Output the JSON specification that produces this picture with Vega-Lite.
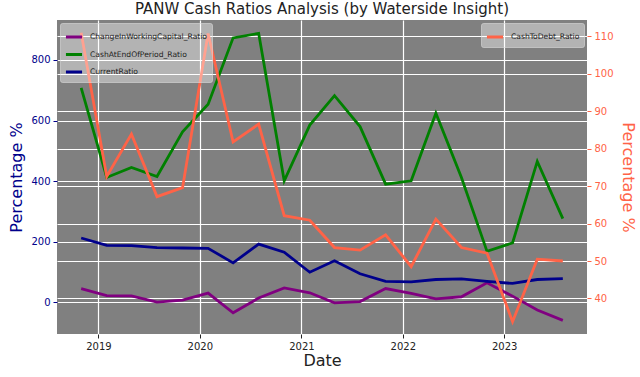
{
  "$schema": "https://vega.github.io/schema/vega-lite/v6.json",
  "autosize": "none",
  "width": 530,
  "height": 314,
  "padding": {"left": 57, "top": 20, "right": 53, "bottom": 43},
  "background": "white",
  "config": {
    "font": "DejaVu Sans",
    "view": {"fill": "#808080", "stroke": null},
    "axis": {"gridColor": "white", "gridOpacity": 1, "gridWidth": 1.2, "domain": false, "labelFont": "DejaVu Sans", "titleFont": "DejaVu Sans", "titleFontWeight": "normal"}
  },
  "title": {"text": "PANW Cash Ratios Analysis (by Waterside Insight)", "fontSize": 15, "fontWeight": "normal", "color": "#222222", "offset": 3, "font": "DejaVu Sans"},
  "data": {"values": [
    {"date": "2018-10-31", "series": "ChangeInWorkingCapital_Ratio", "value": 45},
    {"date": "2019-01-31", "series": "ChangeInWorkingCapital_Ratio", "value": 22},
    {"date": "2019-04-30", "series": "ChangeInWorkingCapital_Ratio", "value": 21},
    {"date": "2019-07-31", "series": "ChangeInWorkingCapital_Ratio", "value": 0},
    {"date": "2019-10-31", "series": "ChangeInWorkingCapital_Ratio", "value": 7},
    {"date": "2020-01-31", "series": "ChangeInWorkingCapital_Ratio", "value": 30},
    {"date": "2020-04-30", "series": "ChangeInWorkingCapital_Ratio", "value": -35},
    {"date": "2020-07-31", "series": "ChangeInWorkingCapital_Ratio", "value": 14},
    {"date": "2020-10-31", "series": "ChangeInWorkingCapital_Ratio", "value": 47},
    {"date": "2021-01-31", "series": "ChangeInWorkingCapital_Ratio", "value": 31},
    {"date": "2021-04-30", "series": "ChangeInWorkingCapital_Ratio", "value": -2},
    {"date": "2021-07-31", "series": "ChangeInWorkingCapital_Ratio", "value": 2},
    {"date": "2021-10-31", "series": "ChangeInWorkingCapital_Ratio", "value": 45},
    {"date": "2022-01-31", "series": "ChangeInWorkingCapital_Ratio", "value": 29},
    {"date": "2022-04-30", "series": "ChangeInWorkingCapital_Ratio", "value": 11},
    {"date": "2022-07-31", "series": "ChangeInWorkingCapital_Ratio", "value": 18},
    {"date": "2022-10-31", "series": "ChangeInWorkingCapital_Ratio", "value": 64},
    {"date": "2023-01-31", "series": "ChangeInWorkingCapital_Ratio", "value": 20},
    {"date": "2023-04-30", "series": "ChangeInWorkingCapital_Ratio", "value": -26},
    {"date": "2023-07-31", "series": "ChangeInWorkingCapital_Ratio", "value": -60},
    {"date": "2018-10-31", "series": "CashAtEndOfPeriod_Ratio", "value": 708},
    {"date": "2019-01-31", "series": "CashAtEndOfPeriod_Ratio", "value": 412},
    {"date": "2019-04-30", "series": "CashAtEndOfPeriod_Ratio", "value": 445},
    {"date": "2019-07-31", "series": "CashAtEndOfPeriod_Ratio", "value": 415},
    {"date": "2019-10-31", "series": "CashAtEndOfPeriod_Ratio", "value": 563},
    {"date": "2020-01-31", "series": "CashAtEndOfPeriod_Ratio", "value": 654},
    {"date": "2020-04-30", "series": "CashAtEndOfPeriod_Ratio", "value": 873},
    {"date": "2020-07-31", "series": "CashAtEndOfPeriod_Ratio", "value": 888},
    {"date": "2020-10-31", "series": "CashAtEndOfPeriod_Ratio", "value": 401},
    {"date": "2021-01-31", "series": "CashAtEndOfPeriod_Ratio", "value": 585},
    {"date": "2021-04-30", "series": "CashAtEndOfPeriod_Ratio", "value": 682},
    {"date": "2021-07-31", "series": "CashAtEndOfPeriod_Ratio", "value": 580},
    {"date": "2021-10-31", "series": "CashAtEndOfPeriod_Ratio", "value": 390},
    {"date": "2022-01-31", "series": "CashAtEndOfPeriod_Ratio", "value": 401},
    {"date": "2022-04-30", "series": "CashAtEndOfPeriod_Ratio", "value": 624},
    {"date": "2022-07-31", "series": "CashAtEndOfPeriod_Ratio", "value": 412},
    {"date": "2022-10-31", "series": "CashAtEndOfPeriod_Ratio", "value": 168},
    {"date": "2023-01-31", "series": "CashAtEndOfPeriod_Ratio", "value": 196},
    {"date": "2023-04-30", "series": "CashAtEndOfPeriod_Ratio", "value": 465},
    {"date": "2023-07-31", "series": "CashAtEndOfPeriod_Ratio", "value": 276},
    {"date": "2018-10-31", "series": "CurrentRatio", "value": 212},
    {"date": "2019-01-31", "series": "CurrentRatio", "value": 188},
    {"date": "2019-04-30", "series": "CurrentRatio", "value": 187},
    {"date": "2019-07-31", "series": "CurrentRatio", "value": 180},
    {"date": "2019-10-31", "series": "CurrentRatio", "value": 179},
    {"date": "2020-01-31", "series": "CurrentRatio", "value": 178},
    {"date": "2020-04-30", "series": "CurrentRatio", "value": 130},
    {"date": "2020-07-31", "series": "CurrentRatio", "value": 192},
    {"date": "2020-10-31", "series": "CurrentRatio", "value": 165},
    {"date": "2021-01-31", "series": "CurrentRatio", "value": 99},
    {"date": "2021-04-30", "series": "CurrentRatio", "value": 137},
    {"date": "2021-07-31", "series": "CurrentRatio", "value": 94},
    {"date": "2021-10-31", "series": "CurrentRatio", "value": 69},
    {"date": "2022-01-31", "series": "CurrentRatio", "value": 67},
    {"date": "2022-04-30", "series": "CurrentRatio", "value": 75},
    {"date": "2022-07-31", "series": "CurrentRatio", "value": 77},
    {"date": "2022-10-31", "series": "CurrentRatio", "value": 69},
    {"date": "2023-01-31", "series": "CurrentRatio", "value": 62},
    {"date": "2023-04-30", "series": "CurrentRatio", "value": 75},
    {"date": "2023-07-31", "series": "CurrentRatio", "value": 78},
    {"date": "2018-10-31", "series": "CashToDebt_Ratio", "value": 111},
    {"date": "2019-01-31", "series": "CashToDebt_Ratio", "value": 72.6},
    {"date": "2019-04-30", "series": "CashToDebt_Ratio", "value": 83.9},
    {"date": "2019-07-31", "series": "CashToDebt_Ratio", "value": 67.2},
    {"date": "2019-10-31", "series": "CashToDebt_Ratio", "value": 69.6},
    {"date": "2020-01-31", "series": "CashToDebt_Ratio", "value": 110.8},
    {"date": "2020-04-30", "series": "CashToDebt_Ratio", "value": 81.8},
    {"date": "2020-07-31", "series": "CashToDebt_Ratio", "value": 86.6},
    {"date": "2020-10-31", "series": "CashToDebt_Ratio", "value": 62.1},
    {"date": "2021-01-31", "series": "CashToDebt_Ratio", "value": 60.9},
    {"date": "2021-04-30", "series": "CashToDebt_Ratio", "value": 53.6},
    {"date": "2021-07-31", "series": "CashToDebt_Ratio", "value": 52.9},
    {"date": "2021-10-31", "series": "CashToDebt_Ratio", "value": 57.0},
    {"date": "2022-01-31", "series": "CashToDebt_Ratio", "value": 48.5},
    {"date": "2022-04-30", "series": "CashToDebt_Ratio", "value": 61.2},
    {"date": "2022-07-31", "series": "CashToDebt_Ratio", "value": 53.6},
    {"date": "2022-10-31", "series": "CashToDebt_Ratio", "value": 52.1},
    {"date": "2023-01-31", "series": "CashToDebt_Ratio", "value": 33.8},
    {"date": "2023-04-30", "series": "CashToDebt_Ratio", "value": 50.5},
    {"date": "2023-07-31", "series": "CashToDebt_Ratio", "value": 50.0}
  ]},
  "encoding": {
    "x": {
      "field": "date", "type": "temporal", "title": "Date",
      "scale": {"domain": ["2018-08-05", "2023-10-26"]},
      "axis": {"format": "%Y", "tickCount": {"interval": "year", "step": 1}, "labelFontSize": 10, "labelColor": "#222222", "titleFontSize": 16, "titleColor": "#222222", "tickColor": "#222222", "tickSize": 4, "labelPadding": 3, "titlePadding": 1, "grid": true}
    }
  },
  "layer": [
    {
      "transform": [{"filter": "datum.series !== 'CashToDebt_Ratio'"}],
      "mark": {"type": "line", "strokeWidth": 2.8},
      "encoding": {
        "y": {
          "field": "value", "type": "quantitative", "title": "Percentage %",
          "scale": {"domain": [-105, 932], "nice": false, "zero": false},
          "axis": {"values": [0, 200, 400, 600, 800], "labelColor": "#00008B", "titleColor": "#00008B", "tickColor": "#00008B", "labelFontSize": 10, "titleFontSize": 16, "tickSize": 4, "labelPadding": 3, "titlePadding": 6, "grid": true}
        },
        "color": {
          "field": "series", "type": "nominal",
          "scale": {"domain": ["ChangeInWorkingCapital_Ratio", "CashAtEndOfPeriod_Ratio", "CurrentRatio"], "range": ["#800080", "#008000", "#00008B"]},
          "legend": {"title": null, "orient": "top-left", "offset": 3, "symbolType": "stroke", "symbolStrokeWidth": 3, "symbolSize": 260, "labelFontSize": 7.6, "labelColor": "#222222", "rowPadding": 1.5, "labelOffset": 6, "fillColor": "rgba(255,255,255,0.4)", "strokeColor": "rgba(220,220,220,0.6)", "padding": 4, "cornerRadius": 2}
        }
      }
    },
    {
      "transform": [{"filter": "datum.series === 'CashToDebt_Ratio'"}],
      "mark": {"type": "line", "strokeWidth": 2.8},
      "encoding": {
        "y": {
          "field": "value", "type": "quantitative", "title": "Percentage %",
          "scale": {"domain": [30.5, 114.4], "nice": false, "zero": false},
          "axis": {"orient": "right", "values": [40, 50, 60, 70, 80, 90, 100, 110], "labelColor": "#FF6347", "titleColor": "#FF6347", "tickColor": "#FF6347", "labelFontSize": 10, "titleFontSize": 16, "tickSize": 4, "labelPadding": 3, "titlePadding": 6, "grid": true}
        },
        "color": {
          "field": "series", "type": "nominal",
          "scale": {"domain": ["CashToDebt_Ratio"], "range": ["#FF6347"]},
          "legend": {"title": null, "orient": "top-right", "offset": 3, "symbolType": "stroke", "symbolStrokeWidth": 3, "symbolSize": 260, "labelFontSize": 7.6, "labelColor": "#222222", "labelOffset": 6, "fillColor": "rgba(255,255,255,0.4)", "strokeColor": "rgba(220,220,220,0.6)", "padding": 4, "cornerRadius": 2}
        }
      }
    }
  ],
  "resolve": {"scale": {"y": "independent", "color": "independent"}}
}
